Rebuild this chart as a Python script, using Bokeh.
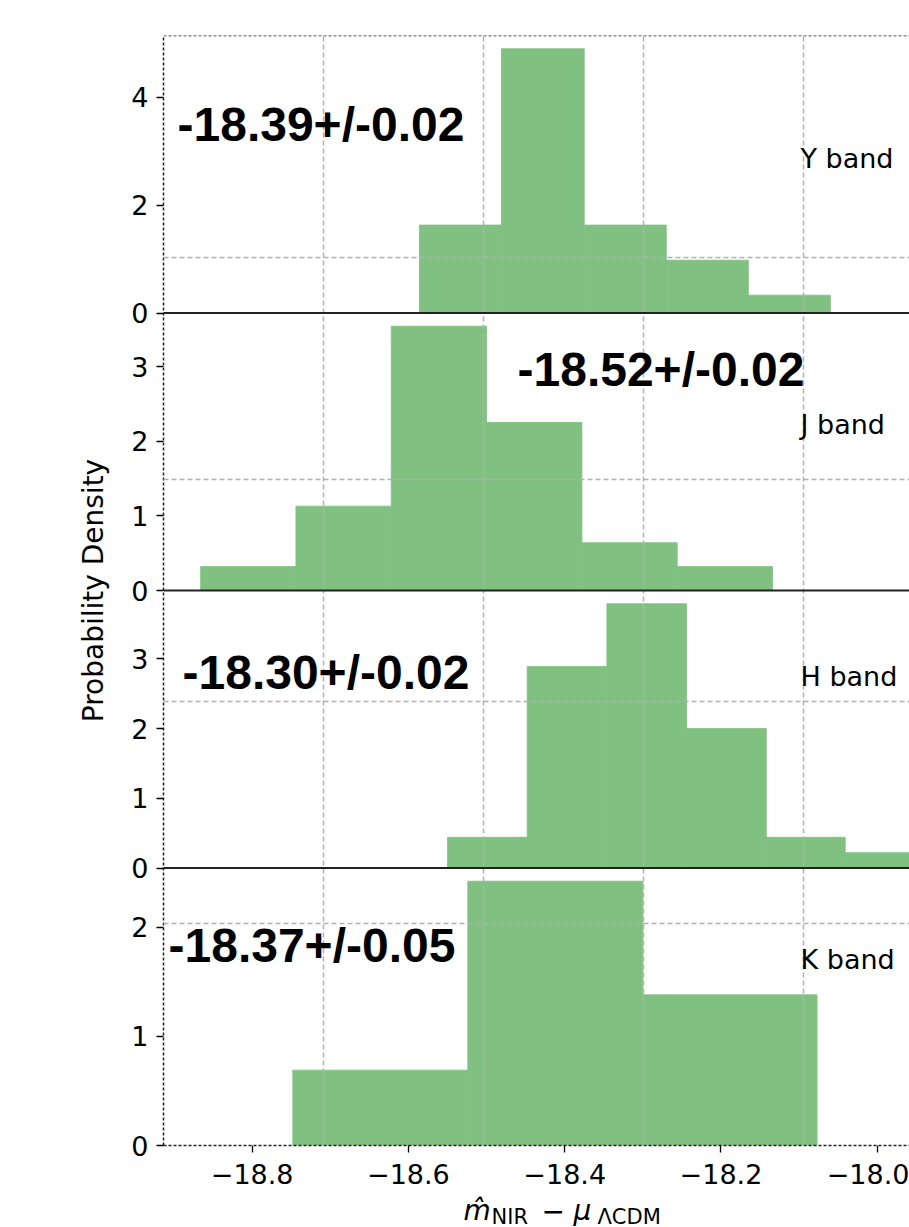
import math

from bokeh.embed import file_html
from bokeh.layouts import column, row
from bokeh.models import FixedTicker, Label, Range1d, Span
from bokeh.plotting import figure
from bokeh.resources import INLINE

# Histogram bin edges and probability densities for each NIR band
y_edges = [-18.586, -18.481, -18.375, -18.270, -18.165, -18.060]
y_density = [1.63, 4.90, 1.63, 0.98, 0.33]

j_edges = [-18.866, -18.744, -18.622, -18.500, -18.378, -18.256, -18.134]
j_density = [0.32, 1.13, 3.54, 2.25, 0.64, 0.32]

h_edges = [-18.550, -18.448, -18.346, -18.244, -18.142, -18.041, -17.939]
h_density = [0.44, 2.89, 3.79, 2.00, 0.44, 0.22]

k_edges = [-18.748, -18.524, -18.300, -18.077]
k_density = [0.69, 2.42, 1.38]

# Fitted offsets quoted in each panel
bands = ["Y", "J", "H", "K"]
fit_texts = ["-18.39+/-0.02", "-18.52+/-0.02", "-18.30+/-0.02", "-18.37+/-0.05"]
band_names = ["Y band", "J band", "H band", "K band"]

# Tick values and labels
y_ticks = [[0, 2, 4], [0, 1, 2, 3], [0, 1, 2, 3], [0, 1, 2]]
x_ticks = [-18.8, -18.6, -18.4, -18.2, -18.0]
x_tick_labels = ["\u221218.8", "\u221218.6", "\u221218.4", "\u221218.2", "\u221218.0"]

# ---------------------------------------------------------------- layout
X_START, X_END = -18.9135, -17.9587      # visible part of the shared x axis
OUTER_X_END = -17.890                     # right edge of the enclosing frame
GRID_FRACS = [0.2, 0.4, 0.6, 0.8]
N_PANELS = 4

FRAME_H = 1110
PANEL_H = FRAME_H / N_PANELS
MAIN_W, MAIN_H = 799, 1195
LEFT_BORDER, TOP_BORDER = 53, 35
XLABEL_H = 32
LABEL_W = 110
TOTAL_H = MAIN_H + XLABEL_H

# text anchors inside each panel (offset from panel's lower left corner)
FIT_POS = [(14, 189), (354, 221), (19, 196), (5, 200)]
BAND_POS = [(637, 155), (637, 166), (637, 192), (637, 186)]

BAR_COLOR = "#80c080"
GRID_COLOR = "#b0b0b0"
SPINE_COLOR = "#222222"
FONT = "DejaVu Sans"

panels = [(y_edges, y_density), (j_edges, j_density),
          (h_edges, h_density), (k_edges, k_density)]

p = figure(width=MAIN_W, height=MAIN_H,
           x_range=Range1d(X_START, X_END), y_range=Range1d(0, 1),
           output_backend="svg", toolbar_location=None,
           min_border_left=LEFT_BORDER, min_border_right=0,
           min_border_top=TOP_BORDER,
           min_border_bottom=MAIN_H - TOP_BORDER - FRAME_H)
p.outline_line_color = None

# one stacked panel per band, each with its own vertical scale
tick_pos, tick_text = [], []
for k, (edges, dens) in enumerate(panels):
    ymax = 1.05 * max(dens)
    below = N_PANELS - 1 - k
    p.extra_y_ranges[bands[k]] = Range1d(-below * ymax, (N_PANELS - below) * ymax)
    p.quad(left=edges[:-1], right=edges[1:], bottom=0, top=dens,
           y_range_name=bands[k],
           fill_color=BAR_COLOR, line_color=BAR_COLOR, line_width=0.8)
    for v in y_ticks[k]:
        tick_pos.append((below + v / ymax) / N_PANELS)
        tick_text.append(str(v))

    base_y = below * PANEL_H
    fx, fy = FIT_POS[k]
    p.add_layout(Label(x=fx, y=base_y + fy, x_units="screen", y_units="screen",
                       text=fit_texts[k], text_font="Liberation Sans",
                       text_font_style="bold", text_font_size="48px",
                       text_color="black", text_baseline="alphabetic"))
    bx, by = BAND_POS[k]
    p.add_layout(Label(x=bx, y=base_y + by, x_units="screen", y_units="screen",
                       text=band_names[k], text_font=FONT,
                       text_font_size="27px", text_color="black",
                       text_baseline="alphabetic"))

# dashed grid of the enclosing frame, drawn over the bars
p.xgrid.ticker = FixedTicker(ticks=[X_START + f * (OUTER_X_END - X_START) for f in GRID_FRACS])
p.ygrid.ticker = FixedTicker(ticks=GRID_FRACS)
p.grid.grid_line_color = GRID_COLOR
p.grid.grid_line_dash = "5 3"
p.grid.grid_line_width = 1.5
p.grid.level = "annotation"

# panel separators and the dotted top edge
for k in range(1, N_PANELS):
    p.add_layout(Span(location=k / N_PANELS, dimension="width",
                      line_color=SPINE_COLOR, line_width=2, level="overlay"))
p.add_layout(Span(location=1, dimension="width", line_color=SPINE_COLOR,
                  line_dash="3 2", line_width=1.5, level="overlay"))

ya = p.yaxis[0]
ya.ticker = FixedTicker(ticks=tick_pos)
ya.major_label_overrides = dict(zip(tick_pos, tick_text))
xa = p.xaxis[0]
xa.ticker = FixedTicker(ticks=x_ticks)
xa.major_label_overrides = dict(zip(x_ticks, x_tick_labels))
for ax in (xa, ya):
    ax.minor_tick_line_color = None
    ax.major_tick_in = 0
    ax.major_tick_out = 7
    ax.major_tick_line_color = "black"
    ax.major_tick_line_width = 1.3
    ax.axis_line_color = SPINE_COLOR
    ax.axis_line_dash = "3 2"
    ax.axis_line_width = 1.5
    ax.major_label_text_font = FONT
    ax.major_label_text_font_size = "27px"
    ax.major_label_text_color = "black"
ya.major_label_standoff = 8
xa.major_label_standoff = 11

# x-axis title: m-hat_NIR minus mu_LambdaCDM, built from pieces
xl = figure(width=MAIN_W, height=XLABEL_H,
            x_range=Range1d(0, 1), y_range=Range1d(0, 1),
            x_axis_location=None, y_axis_location=None,
            output_backend="svg", toolbar_location=None,
            min_border_left=LEFT_BORDER, min_border_right=0,
            min_border_top=0, min_border_bottom=0)
xl.outline_line_color = None
xl.grid.visible = False
xlabel_parts = [
    ("m\u0302", 300, 17, "28px", "italic"),
    ("NIR", 328, 11, "21px", "normal"),
    ("\u2212", 378, 17, "28px", "normal"),
    ("\u03bc", 410, 17, "28px", "italic"),
    ("\u039bCDM", 434, 11, "21px", "normal"),
]
for txt, lx, ly, size, style in xlabel_parts:
    xl.add_layout(Label(x=lx, y=ly, x_units="screen", y_units="screen", text=txt,
                        text_font=FONT, text_font_size=size,
                        text_font_style=style, text_color="black",
                        text_baseline="alphabetic"))

# shared y-axis title on its own narrow canvas
lab = figure(width=LABEL_W, height=TOTAL_H,
             x_range=Range1d(0, 1), y_range=Range1d(0, 1),
             x_axis_location=None, y_axis_location=None,
             output_backend="svg", toolbar_location=None,
             min_border_left=0, min_border_right=0,
             min_border_top=0, min_border_bottom=0)
lab.outline_line_color = None
lab.grid.visible = False
lab.add_layout(Label(x=93, y=TOTAL_H - (TOP_BORDER + FRAME_H / 2), x_units="screen",
                     y_units="screen", text="Probability Density", angle=math.pi / 2,
                     text_align="center", text_baseline="middle",
                     text_font=FONT, text_font_size="28px", text_color="black"))

layout = row(lab, column(p, xl, spacing=0), spacing=0)

open("out.html", "w").write(file_html(layout, INLINE))
